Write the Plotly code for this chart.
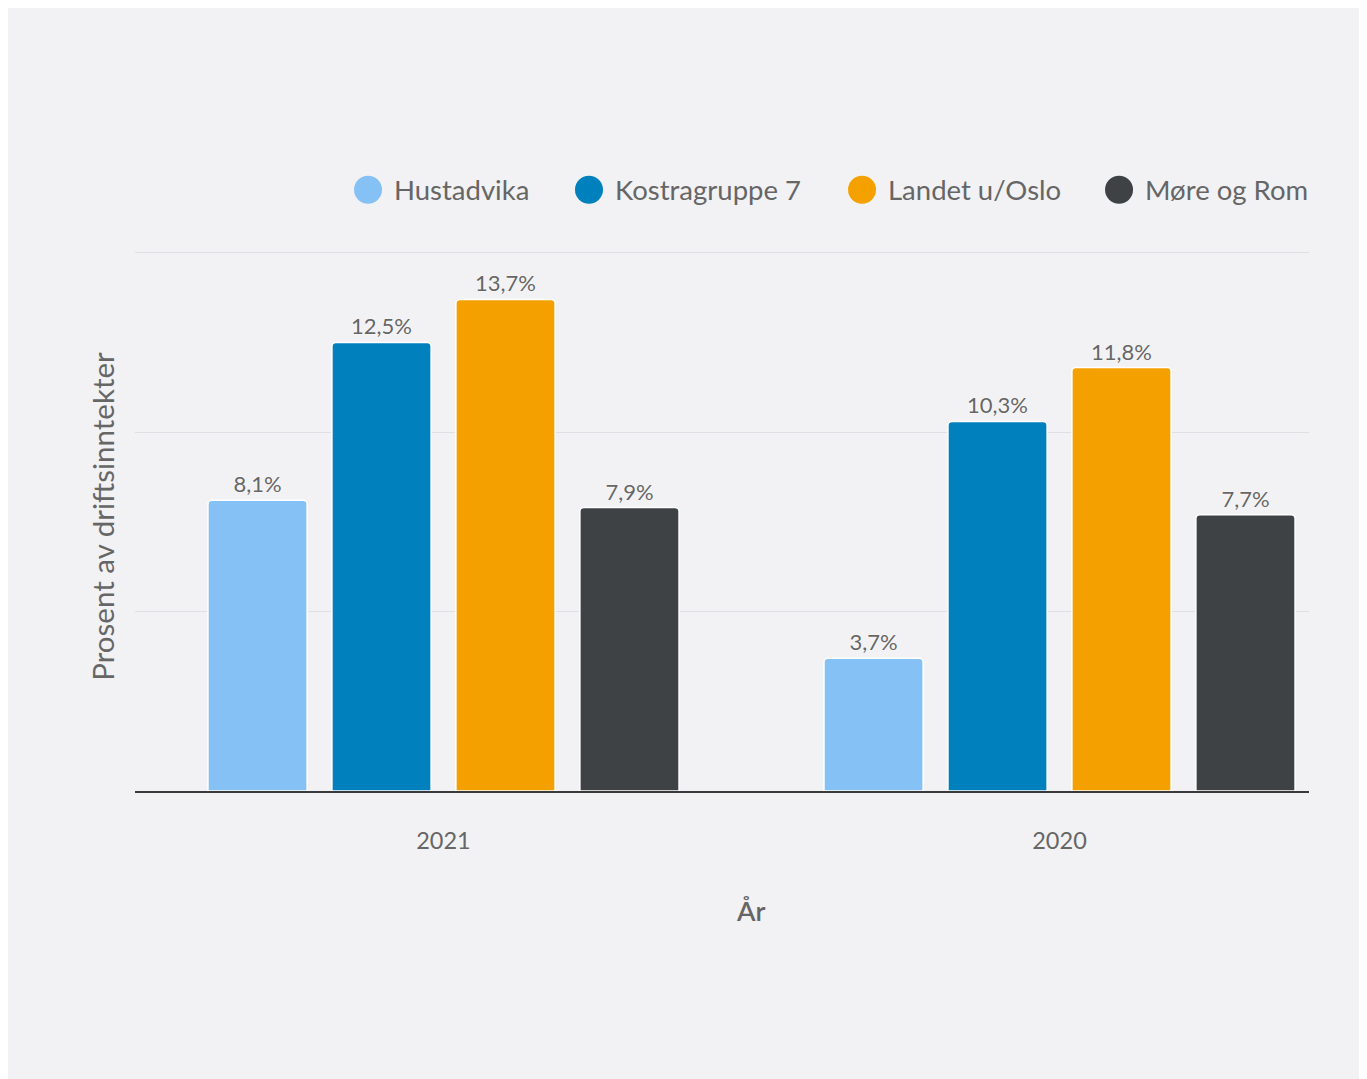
import plotly.graph_objects as go

years = ["2021", "2020"]
series_names = ["Hustadvika", "Kostragruppe 7", "Landet u/Oslo", "Møre og Rom"]
hustadvika = [8.1, 3.7]
kostragruppe7 = [12.5, 10.3]
landet_u_oslo = [13.7, 11.8]
more_og_rom = [7.9, 7.7]
series_values = [hustadvika, kostragruppe7, landet_u_oslo, more_og_rom]

colors = ["#85c1f5", "#0080bc", "#f4a100", "#3e4244"]
TEXT = "#666666"
FONT = "Lato"

fig = go.Figure()
for name, vals, col in zip(series_names, series_values, colors):
    fig.add_trace(go.Bar(
        x=years, y=vals, name=name,
        marker=dict(color=col, line=dict(color="white", width=1.5), cornerradius=4),
        texttemplate="%{y:.1f}%", textposition="outside",
        textfont=dict(family=FONT, size=22, color=TEXT, shadow="0px 0px 2px white"),
        cliponaxis=False, showlegend=False, hoverinfo="skip",
    ))

# manual legend (circle markers)
legend_x = [0.1985, 0.3867, 0.6193, 0.8382]
legend_y = 1.0952
shapes = []
annotations = []
for name, col, lx in zip(series_names, colors, legend_x):
    shapes.append(dict(type="circle", xref="paper", yref="paper",
                       xsizemode="pixel", ysizemode="pixel",
                       xanchor=lx, yanchor=legend_y,
                       x0=-14, x1=14, y0=-14, y1=14,
                       fillcolor=col, line=dict(width=0)))
    annotations.append(dict(xref="paper", yref="paper", x=lx, y=legend_y,
                            xanchor="left", yanchor="middle", xshift=24,
                            text=name, showarrow=False,
                            font=dict(family=FONT, size=27.5, color=TEXT)))

# x-axis title
annotations.append(dict(xref="paper", yref="paper", x=0.5247, y=0,
                        xanchor="center", yanchor="middle", yshift=-119,
                        text="År", showarrow=False,
                        font=dict(family=FONT, size=27, color=TEXT, weight=600)))

fig.update_layout(
    width=1352, height=1071,
    margin=dict(l=127, r=51, t=234.2, b=288),
    paper_bgcolor="#f2f2f4", plot_bgcolor="#f2f2f4",
    barmode="group", bargap=0.195, bargroupgap=0.2,
    separators=", ",
    font=dict(family=FONT, color=TEXT),
    shapes=shapes, annotations=annotations,
    xaxis=dict(
        type="category", range=[-0.5008, 1.405],
        showline=True, linecolor="#3a3a3a", linewidth=2,
        showgrid=False, ticks="", ticklabelstandoff=28,
        tickfont=dict(family=FONT, size=23.5, color=TEXT),
    ),
    yaxis=dict(
        range=[0, 15.3], dtick=5, showticklabels=False,
        showgrid=True, gridcolor="#e0e0e4", gridwidth=1,
        zeroline=False,
        title=dict(text="Prosent av driftsinntekter", standoff=10,
                   font=dict(family=FONT, size=29.5, color=TEXT)),
    ),
)

fig.write_html("out.html")
